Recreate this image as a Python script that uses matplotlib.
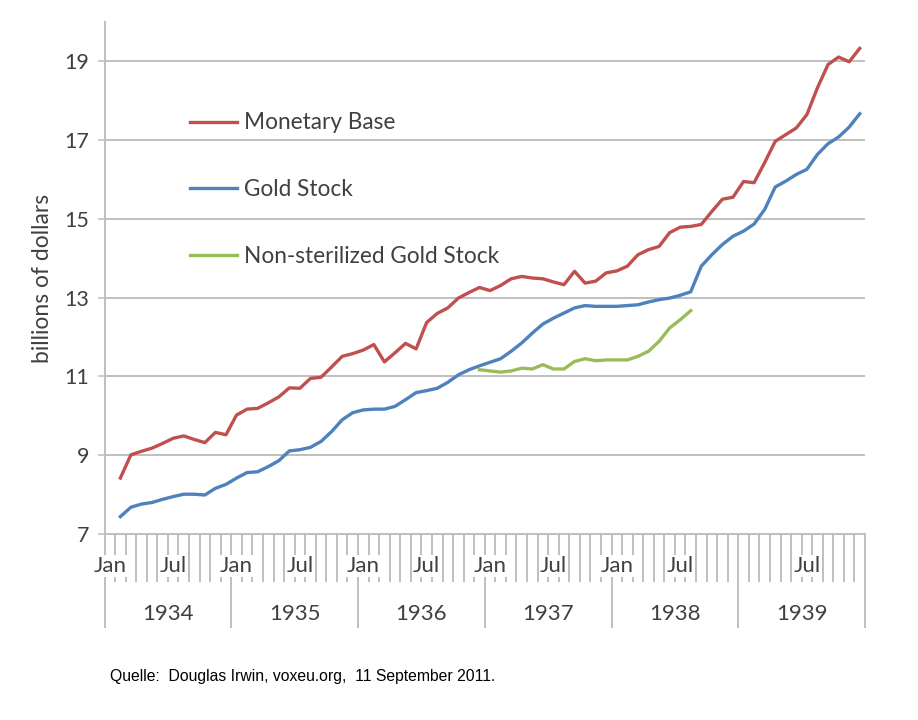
import matplotlib
matplotlib.use("Agg")
import matplotlib.pyplot as plt
from matplotlib.transforms import blended_transform_factory

# ---------------- data ----------------
years = [1934, 1935, 1936, 1937, 1938, 1939]
n_months = 72  # Jan 1934 .. Dec 1939 (categories)

month_label_idx = [0, 6, 12, 18, 24, 30, 36, 42, 48, 54, 66]
month_labels = ['Jan', 'Jul', 'Jan', 'Jul', 'Jan', 'Jul', 'Jan', 'Jul', 'Jan', 'Jul', 'Jul']

# Monetary Base and Gold Stock: Feb 1934 .. Dec 1939 (billions of dollars)
mb_start = 1
monetary_base = [8.42, 9.01, 9.10, 9.18, 9.30, 9.43, 9.49, 9.40, 9.32, 9.58, 9.52,
                 10.02, 10.17, 10.19, 10.33, 10.48, 10.71, 10.70, 10.95, 10.98, 11.24, 11.51, 11.58,
                 11.67, 11.81, 11.37, 11.60, 11.84, 11.70, 12.37, 12.60, 12.74, 12.99, 13.13, 13.26,
                 13.18, 13.31, 13.48, 13.54, 13.50, 13.48, 13.40, 13.33, 13.67, 13.37, 13.42, 13.63,
                 13.68, 13.80, 14.09, 14.22, 14.30, 14.65, 14.79, 14.81, 14.86, 15.19, 15.50, 15.55,
                 15.95, 15.92, 16.43, 16.97, 17.14, 17.31, 17.65, 18.33, 18.92, 19.11, 18.99, 19.33]
gold_stock = [7.44, 7.68, 7.76, 7.80, 7.88, 7.95, 8.01, 8.01, 7.99, 8.16, 8.26,
              8.42, 8.56, 8.58, 8.71, 8.86, 9.11, 9.14, 9.20, 9.35, 9.60, 9.90, 10.08,
              10.15, 10.17, 10.17, 10.24, 10.41, 10.59, 10.64, 10.70, 10.85, 11.04, 11.17, 11.27,
              11.36, 11.45, 11.64, 11.85, 12.10, 12.33, 12.48, 12.61, 12.74, 12.80, 12.78, 12.78,
              12.78, 12.80, 12.82, 12.89, 12.95, 12.99, 13.06, 13.15, 13.80, 14.09, 14.35, 14.56,
              14.69, 14.87, 15.24, 15.81, 15.96, 16.13, 16.26, 16.64, 16.91, 17.08, 17.33, 17.67]
# Non-sterilized Gold Stock: Dec 1936 .. Aug 1938
ns_start = 35
nonster_gold = [11.17, 11.14, 11.11, 11.14, 11.21, 11.19, 11.30, 11.19, 11.19, 11.38, 11.45,
                11.40, 11.42, 11.42, 11.42, 11.51, 11.64, 11.89, 12.23, 12.44, 12.67]

series_names = ['Monetary Base', 'Gold Stock', 'Non-sterilized Gold Stock']
colors = ['#C0504D', '#4F81BD', '#9BBB59']

# ---------------- figure ----------------
plt.rcParams['font.family'] = ['Lato', 'DejaVu Sans']
fig = plt.figure(figsize=(9.18, 7.2), dpi=100)
ax = fig.add_axes([104.5 / 918, 1 - 534 / 720, (865 - 104.5) / 918, (534 - 22) / 720])

grid_c = '#BFBFBF'
text_c = '#404040'

def xs(start, vals):
    return [start + i + 0.5 for i in range(len(vals))]

lw = 2.4
ax.plot(xs(mb_start, monetary_base), monetary_base, color=colors[0], lw=lw,
        label=series_names[0], solid_joinstyle='round', zorder=4)
ax.plot(xs(mb_start, gold_stock), gold_stock, color=colors[1], lw=lw,
        label=series_names[1], solid_joinstyle='round', zorder=4)
ax.plot(xs(ns_start, nonster_gold), nonster_gold, color=colors[2], lw=lw,
        label=series_names[2], solid_joinstyle='round', zorder=4)

ax.set_xlim(0, n_months)
ax.set_ylim(7, 20)
ax.set_yticks(range(7, 20, 2))
ax.yaxis.grid(True, color=grid_c, lw=1.4)
ax.set_axisbelow(True)
ax.tick_params(axis='y', length=5, width=1.1, color=grid_c, labelsize=15.5,
               labelcolor=text_c, pad=6)

for s in ['top', 'right']:
    ax.spines[s].set_visible(False)
for s in ['left', 'bottom']:
    ax.spines[s].set_color(grid_c)
    ax.spines[s].set_linewidth(1.4)

# category ticks: month separators (minor) and year separators (major)
ax.set_xticks(range(0, n_months + 1, 12))
ax.set_xticks([i for i in range(n_months + 1) if i % 12], minor=True)
ax.tick_params(axis='x', which='major', length=68, width=1.4, color=grid_c,
               labelbottom=False)
ax.tick_params(axis='x', which='minor', length=34.5, width=1.4, color=grid_c)

trans = blended_transform_factory(ax.transData, ax.transAxes)
for idx, lab in zip(month_label_idx, month_labels):
    ax.text(idx + 0.5, -0.0625, lab, transform=trans, ha='center', va='center',
            fontsize=16, color=text_c, clip_on=False, zorder=5,
            bbox=dict(boxstyle='square,pad=0.05', fc='white', ec='none'))
for k, yr in enumerate(years):
    ax.text(k * 12 + 6, -0.156, str(yr), transform=trans, ha='center', va='center',
            fontsize=16, color=text_c, clip_on=False)

ax.set_ylabel('billions of dollars', fontsize=16.5, color=text_c, labelpad=8)

leg = ax.legend(loc='upper left', bbox_to_anchor=(0.1, 0.841), frameon=False,
                fontsize=16.3, handlelength=2.1, handletextpad=0.3, labelspacing=2.03,
                borderaxespad=0)
for t in leg.get_texts():
    t.set_color(text_c)

fig.text(110 / 918, 1 - 677 / 720, 'Quelle:  Douglas Irwin, voxeu.org,  11 September 2011.',
         family='Liberation Sans', fontsize=11.3, color='black', va='center', ha='left')

fig.savefig('out.png', dpi=100, facecolor='white')
